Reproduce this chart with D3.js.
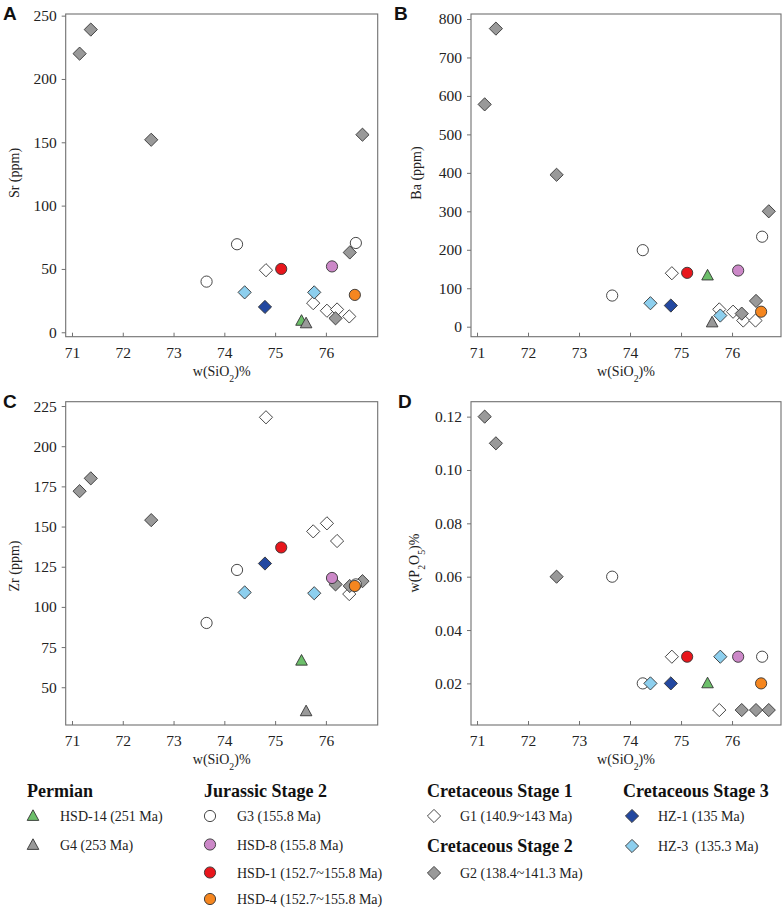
<!DOCTYPE html>
<meta charset="utf-8">
<style>
body{ margin:0; background:#fff; }
svg{ display:block; }
text{ font-family:"Liberation Serif","Times New Roman",serif; fill:#222; }
.letter{ font-family:"Liberation Sans",Arial,sans-serif; font-weight:bold; font-size:19px; fill:#111; }
.ttl{ font-size:14px; }
.lgTitle{ font-weight:bold; font-size:18px; fill:#111; }
.lgItem{ font-size:14px; }
</style>
<body></body>
<script src="https://cdn.jsdelivr.net/npm/d3@7"></script>
<script>

// ---- data: SiO2 (wt%) and trace elements per sample group ----
var g1_si   = [74.82, 75.75, 76.02, 76.22, 76.46],
    g1_sr   = [49, 23, 17, 18, 12.5],
    g1_ba   = [139, 45, 39, 16, 16],
    g1_zr   = [218, 147, 152, 141, 108],
    g1_p    = [0.03, 0.01, null, null, null]

var g2_si   = [71.15, 71.37, 72.56, 76.19, 76.47, 76.72],
    g2_sr   = [220, 239, 152, 11, 63, 156],
    g2_ba   = [578, 775, 395, 34, 67, 300],
    g2_zr   = [172, 180, 154, 114, 113, 116],
    g2_p    = [0.12, 0.11, 0.06, 0.01, 0.01, 0.01]

var g3_si   = [73.65, 74.25, 76.59],
    g3_sr   = [40, 69.5, 70.5],
    g3_ba   = [81, 199, 234],
    g3_zr   = [90, 123, 114],
    g3_p    = [0.06, 0.02, 0.03]

var hsd8_si = [76.12], hsd8_sr = [52],   hsd8_ba = [146], hsd8_zr = [118],   hsd8_p = [0.03]
var hsd1_si = [75.12], hsd1_sr = [50],   hsd1_ba = [140], hsd1_zr = [137],   hsd1_p = [0.03]
var hsd4_si = [76.57], hsd4_sr = [29.5], hsd4_ba = [39],  hsd4_zr = [113],   hsd4_p = [0.02]
var hz1_si  = [74.8],  hz1_sr  = [20],   hz1_ba  = [55],  hz1_zr  = [127],   hz1_p  = [0.02]
var hz3_si  = [74.4, 75.77], hz3_sr = [31.5, 31.5], hz3_ba = [61, 29], hz3_zr = [109, 108.5], hz3_p = [0.02, 0.03]
var hsd14_si = [75.52], hsd14_sr = [9], hsd14_ba = [133], hsd14_zr = [66.5], hsd14_p = [0.02]
var g4_si   = [75.61], g4_sr = [7], g4_ba = [11], g4_zr = [35], g4_p = [null]

var xTicks  = [71, 72, 73, 74, 75, 76]
var srTicks = [0, 50, 100, 150, 200, 250]
var baTicks = [0, 100, 200, 300, 400, 500, 600, 700, 800]
var zrTicks = [50, 75, 100, 125, 150, 175, 200, 225]
var pTicks  = [0.02, 0.04, 0.06, 0.08, 0.10, 0.12]

// groups in drawing order
var groups = [
	{name:'G1 (140.9~143 Ma)',       sym:'diamond',  fill:'#ffffff', si:g1_si,  sr:g1_sr,  ba:g1_ba,  zr:g1_zr,  p:g1_p},
	{name:'G2 (138.4~141.3 Ma)',     sym:'diamond',  fill:'#999999', si:g2_si,  sr:g2_sr,  ba:g2_ba,  zr:g2_zr,  p:g2_p},
	{name:'G3 (155.8 Ma)',           sym:'circle',   fill:'#ffffff', si:g3_si,  sr:g3_sr,  ba:g3_ba,  zr:g3_zr,  p:g3_p},
	{name:'HSD-8 (155.8 Ma)',        sym:'circle',   fill:'#cc88c8', si:hsd8_si, sr:hsd8_sr, ba:hsd8_ba, zr:hsd8_zr, p:hsd8_p},
	{name:'HSD-1 (152.7~155.8 Ma)',  sym:'circle',   fill:'#e8161c', si:hsd1_si, sr:hsd1_sr, ba:hsd1_ba, zr:hsd1_zr, p:hsd1_p},
	{name:'HSD-4 (152.7~155.8 Ma)',  sym:'circle',   fill:'#f5861f', si:hsd4_si, sr:hsd4_sr, ba:hsd4_ba, zr:hsd4_zr, p:hsd4_p},
	{name:'HZ-1 (135 Ma)',           sym:'diamond',  fill:'#2348a0', si:hz1_si,  sr:hz1_sr,  ba:hz1_ba,  zr:hz1_zr,  p:hz1_p},
	{name:'HZ-3  (135.3 Ma)',        sym:'diamond',  fill:'#8dcfee', si:hz3_si,  sr:hz3_sr,  ba:hz3_ba,  zr:hz3_zr,  p:hz3_p},
	{name:'HSD-14 (251 Ma)',         sym:'triangle', fill:'#6cbf6a', si:hsd14_si, sr:hsd14_sr, ba:hsd14_ba, zr:hsd14_zr, p:hsd14_p},
	{name:'G4 (253 Ma)',             sym:'triangle', fill:'#999999', si:g4_si,  sr:g4_sr,  ba:g4_ba,  zr:g4_zr,  p:g4_p}
]
var byName = {}
groups.forEach(function(g){ byName[g.name] = g })

var svg = d3.select('body').append('svg')
	.attr('width', 784).attr('height', 909)

function symPath(sym){
	if (sym == 'diamond') return 'M0,-6.6L6.6,0L0,6.6L-6.6,0Z'
	if (sym == 'triangle') return 'M0,-6.2L5.8,4.4L-5.8,4.4Z'
	return null
}

function drawMark(sel, g){
	if (g.sym == 'circle'){
		sel.append('circle').attr('r', 5.6)
			.attr('fill', g.fill).attr('stroke', '#333').attr('stroke-width', 0.9)
	} else {
		sel.append('path').attr('d', symPath(g.sym))
			.attr('fill', g.fill).attr('stroke', '#333').attr('stroke-width', 0.9)
	}
}

function subText(sel, parts){
	// parts: [text, sub, text, sub, text...]
	parts.forEach(function(t, i){
		if (i % 2 == 0) sel.append('tspan').text(t)
		else sel.append('tspan').attr('baseline-shift', 'sub').attr('font-size', '70%').text(t)
	})
}

function panel(o){
	var x = d3.scaleLinear().domain(o.xd).range([o.l, o.r])
	var y = d3.scaleLinear().domain(o.yd).range([o.b, o.t])
	var g = svg.append('g')

	g.append('rect')
		.attr('x', o.l).attr('y', o.t).attr('width', o.r - o.l).attr('height', o.b - o.t)
		.attr('fill', 'none').attr('stroke', '#707070').attr('stroke-width', 1.1)

	var xa = g.append('g').attr('transform', 'translate(0,' + o.b + ')')
		.call(d3.axisBottom(x).tickValues(xTicks).tickSize(-4).tickPadding(10).tickFormat(d3.format('d')))
	var ya = g.append('g').attr('transform', 'translate(' + o.l + ',0)')
		.call(d3.axisLeft(y).tickValues(o.ticks).tickSize(4).tickPadding(5).tickFormat(o.fmt))
	;[xa, ya].forEach(function(a){
		a.attr('font-family', '"Liberation Serif",serif').attr('font-size', 15.5)
		a.select('.domain').remove()
		a.selectAll('line').attr('stroke', '#707070')
		a.selectAll('text').attr('fill', '#222')
	})

	subText(g.append('text').attr('class', 'ttl')
		.attr('x', (o.l + o.r) / 2).attr('y', o.b + 39).attr('text-anchor', 'middle'), ['w(SiO', '2', ')%'])

	subText(g.append('text').attr('class', 'ttl')
		.attr('transform', 'translate(' + o.yx + ',' + o.yy + ') rotate(-90)')
		.attr('text-anchor', 'middle'), o.ytitle)

	g.append('text').attr('class', 'letter').attr('x', o.lx).attr('y', o.t + 6).text(o.letter)

	groups.forEach(function(grp){
		grp.si.forEach(function(s, i){
			var v = grp[o.key][i]
			if (v == null) return
			var m = g.append('g').attr('transform', 'translate(' + x(s) + ',' + y(v) + ')')
			drawMark(m, grp)
		})
	})
}

panel({letter:'A', lx:3,   key:'sr', l:65.7, r:377.7, t:14,    b:336.7, xd:[70.876, 77.02], yd:[-3.5, 251.3],
	ticks:srTicks, fmt:d3.format('d'), ytitle:['Sr (ppm)'], yx:19, yy:173})
panel({letter:'B', lx:394, key:'ba', l:471,  r:781,   t:14,    b:336.7, xd:[70.882, 76.96], yd:[-26, 813],
	ticks:baTicks, fmt:d3.format('d'), ytitle:['Ba (ppm)'], yx:421, yy:173})
panel({letter:'C', lx:3,   key:'zr', l:65.7, r:377.7, t:401.7, b:725,   xd:[70.876, 77.02], yd:[26.5, 227.7],
	ticks:zrTicks, fmt:d3.format('d'), ytitle:['Zr (ppm)'], yx:19, yy:566})
panel({letter:'D', lx:398, key:'p',  l:471,  r:781,   t:401.7, b:725,   xd:[70.882, 76.96], yd:[0.0044, 0.1256],
	ticks:pTicks, fmt:d3.format('.2f'), ytitle:['w(P', '2', 'O', '5', ')%'], yx:419, yy:563})

// ---- legend ----
var legendCols = [
	{title:'Permian', tx:27, ty:797, sx:33, lx:60, items:['HSD-14 (251 Ma)', 'G4 (253 Ma)'], rows:[816, 845]},
	{title:'Jurassic Stage 2', tx:204, ty:797, sx:210, lx:237,
		items:['G3 (155.8 Ma)', 'HSD-8 (155.8 Ma)', 'HSD-1 (152.7~155.8 Ma)', 'HSD-4 (152.7~155.8 Ma)'], rows:[816, 844.5, 872.5, 899]},
	{title:'Cretaceous Stage 1', tx:427, ty:797, sx:434, lx:460, items:['G1 (140.9~143 Ma)'], rows:[816]},
	{title:'Cretaceous Stage 2', tx:427, ty:852, sx:434, lx:460, items:['G2 (138.4~141.3 Ma)'], rows:[873]},
	{title:'Cretaceous Stage 3', tx:623, ty:797, sx:632, lx:658, items:['HZ-1 (135 Ma)', 'HZ-3  (135.3 Ma)'], rows:[816, 846]}
]

var lg = svg.append('g')
legendCols.forEach(function(c){
	lg.append('text').attr('class', 'lgTitle').attr('x', c.tx).attr('y', c.ty).text(c.title)
	c.items.forEach(function(name, i){
		var m = lg.append('g').attr('transform', 'translate(' + c.sx + ',' + c.rows[i] + ')')
		drawMark(m, byName[name])
		lg.append('text').attr('class', 'lgItem').attr('x', c.lx).attr('y', c.rows[i] + 5)
			.style('white-space', 'pre').text(name)
	})
})

</script>
